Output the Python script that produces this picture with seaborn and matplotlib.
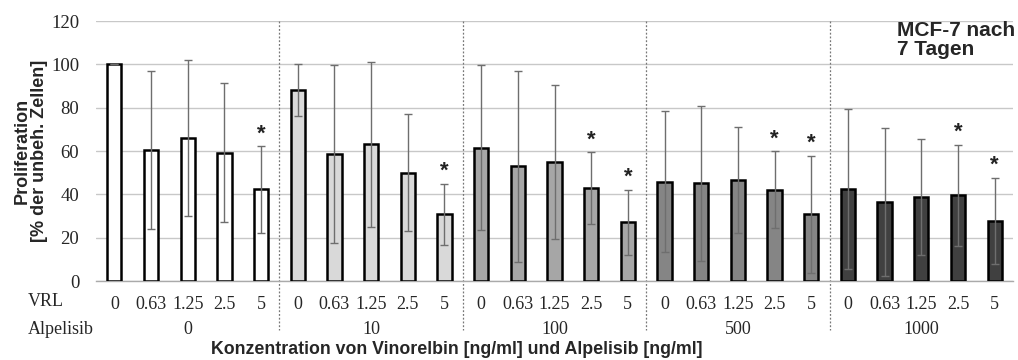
import numpy as np
import pandas as pd
import matplotlib
matplotlib.use("Agg")
import matplotlib.pyplot as plt
import seaborn as sns

# ---------------- data ----------------
vrl_labels = ["0", "0.63", "1.25", "2.5", "5"]
alpelisib_groups = ["0", "10", "100", "500", "1000"]
means = [
    100.0, 60.5, 66.0, 59.3, 42.3,
    88.0, 58.7, 63.1, 50.0, 30.8,
    61.5, 52.9, 55.1, 42.9, 27.1,
    45.8, 45.1, 46.5, 42.2, 30.9,
    42.5, 36.5, 38.8, 39.5, 27.7,
]
errors = [
    0.0, 36.5, 36.0, 32.0, 20.0,
    12.0, 41.0, 38.0, 27.0, 14.0,
    38.0, 44.0, 35.5, 16.5, 15.0,
    32.6, 35.7, 24.5, 17.6, 27.0,
    37.0, 34.0, 26.6, 23.4, 20.0,
]
significant = [
    0, 0, 0, 0, 1,
    0, 0, 0, 0, 1,
    0, 0, 0, 1, 1,
    0, 0, 0, 1, 1,
    0, 0, 0, 1, 1,
]
group_colors = ["#ffffff", "#d9d9d9", "#a6a6a6", "#858585", "#404040"]

# ---------------- frame ----------------
rows = []
for gi, g in enumerate(alpelisib_groups):
    for vi, v in enumerate(vrl_labels):
        k = gi * len(vrl_labels) + vi
        rows.append({"pos": f"{g}|{v}", "Alpelisib": g, "VRL": v,
                     "value": means[k], "err": errors[k], "sig": significant[k]})
df = pd.DataFrame(rows)

sns.set_style("white")
plt.rcParams["font.family"] = ["Liberation Serif", "DejaVu Serif"]

fig = plt.figure(figsize=(10.18, 3.6), dpi=100)
ax = fig.add_axes([96 / 1018, 1 - 281 / 360, (1013 - 96) / 1018, (281 - 21) / 360])

sns.barplot(data=df, x="pos", y="value", hue="Alpelisib", order=df["pos"],
            hue_order=alpelisib_groups, palette=group_colors, dodge=False,
            width=0.39, edgecolor="black", linewidth=1.8, errorbar=None,
            legend=False, ax=ax, zorder=3)

xs = np.arange(len(df))
ax.errorbar(xs, df["value"], yerr=df["err"], fmt="none", ecolor="#6e6e6e",
            elinewidth=1.0, capsize=3, capthick=1.0, zorder=4)

for x, (v, e, s) in enumerate(zip(df["value"], df["err"], df["sig"])):
    if s:
        ax.text(x, v + e + 0.8, "*", ha="center", va="bottom", fontsize=16,
                family=["Liberation Sans"], fontweight="bold", color="#222222", zorder=5)

ax.set_ylim(0, 120)
ax.set_xlim(-0.5, len(df) - 0.5)
ax.set_yticks(np.arange(0, 121, 20))
ax.tick_params(axis="y", length=0, pad=12, labelsize=13.5)
ax.yaxis.grid(True, color="#c8c8c8", linewidth=1.0, zorder=0)
ax.set_axisbelow(True)

ax.set_xticks(xs)
ax.set_xticklabels(df["VRL"], fontsize=13)
ax.tick_params(axis="x", length=0, pad=11)
ax.set_xticks(np.arange(-0.5, len(df), 1), minor=True)
ax.tick_params(axis="x", which="minor", length=4, color="#aaaaaa", width=1)

for sp in ["top", "right", "left"]:
    ax.spines[sp].set_visible(False)
ax.spines["bottom"].set_color("#aaaaaa")
ax.spines["bottom"].set_linewidth(1.0)

ax.set_xlabel("")
ax.set_ylabel("")

# group separators (dotted, extending below the axis)
for b in range(1, len(alpelisib_groups)):
    xb = b * len(vrl_labels) - 0.5
    ax.plot([xb, xb], [1.0, -0.19], transform=ax.get_xaxis_transform(),
            linestyle=(0, (1.5, 1.5)), color="#777777", linewidth=0.9,
            clip_on=False, zorder=2)

# Alpelisib row
trans = ax.get_xaxis_transform()
for gi, g in enumerate(alpelisib_groups):
    ax.text(gi * len(vrl_labels) + 2, -0.185, g, transform=trans, ha="center",
            va="center", fontsize=13)

fig.text(28 / 1018, 1 - 302 / 360, "VRL", ha="left", va="center", fontsize=13)
fig.text(28 / 1018, 1 - 329 / 360, "Alpelisib", ha="left", va="center", fontsize=13)

fig.text(457 / 1018, 1 - 350 / 360,
         "Konzentration von Vinorelbin [ng/ml] und Alpelisib [ng/ml]",
         ha="center", va="center", fontsize=12.8, fontweight="bold",
         family=["Liberation Sans"])

fig.text(31 / 1018, 1 - 151 / 360, "Proliferation\n[% der unbeh. Zellen]",
         ha="center", va="center", rotation=90, fontsize=13, fontweight="bold",
         family=["Liberation Sans"], linespacing=1.05)

fig.text(897 / 1018, 1 - 21 / 360, "MCF-7 nach\n7 Tagen", ha="left", va="top",
         fontsize=15, fontweight="bold", family=["Liberation Sans"],
         linespacing=1.0)

fig.savefig("out.png", dpi=100)
